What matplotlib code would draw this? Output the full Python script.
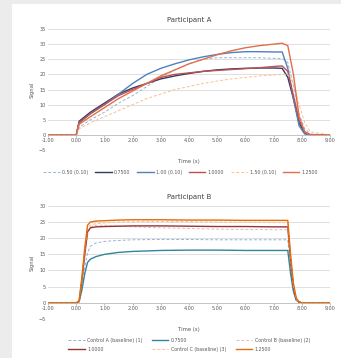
import matplotlib
matplotlib.use("Agg")
import matplotlib.pyplot as plt
from matplotlib.patches import Rectangle

# ---------- data: participant A ----------
t_a = [-1.0, 0.0, 0.1, 0.5, 1.0, 1.5, 2.0, 2.5, 3.0, 3.5, 4.0, 4.5, 5.0,
       5.5, 6.0, 6.5, 7.0, 7.3, 7.5, 7.7, 7.9, 8.1, 8.3, 9.0]
a_ctrl1 = [0, 0, 2.5, 5, 7.5, 10.5, 13, 16, 19, 21.5, 23.5, 25, 25.5, 25.5,
           25.5, 25.5, 25.3, 25.2, 24, 16, 7, 2, 0.3, 0]
a_0750 = [0, 0, 4.5, 7.5, 10.5, 13.5, 15.5, 17, 18.5, 19.5, 20.3, 21, 21.5,
          21.8, 22, 22.1, 22.1, 22.0, 19, 12, 4, 0.5, 0, 0]
a_ctrl2 = [0, 0, 4, 7, 10, 13.5, 17, 20, 22, 23.5, 24.8, 25.8, 26.6, 27.2,
           27.5, 27.5, 27.4, 27.4, 22, 12, 3, 0.3, 0, 0]
a_1000 = [0, 0, 4, 7, 10, 13, 15, 17, 19, 20, 20.5, 21, 21.3, 21.6, 21.9,
          22.2, 22.6, 22.8, 21, 13, 5, 1, 0, 0]
a_ctrl3 = [0, 0, 2, 4, 6, 8, 10, 12, 13.5, 15, 16, 17, 17.8, 18.5, 19, 19.5,
           19.8, 20, 20, 17, 10, 4, 1, 0]
a_1250 = [0, 0, 3.5, 6, 9, 12, 14.5, 17, 19.5, 21.5, 23.5, 25, 26.5, 27.8,
          28.8, 29.5, 30, 30.3, 29.5, 20, 6, 1, 0, 0]
labels_a = ["0.50 (0.10)", "0.7500", "1.00 (0.10)", "1.0000", "1.50 (0.10)", "1.2500"]

# ---------- data: participant B ----------
t_b = [-1.0, 0.0, 0.1, 0.2, 0.3, 0.4, 0.5, 0.7, 1.0, 1.5, 2.0, 3.0, 4.0,
       5.0, 6.0, 7.0, 7.5, 7.6, 7.7, 7.8, 7.9, 8.0, 9.0]
b_ctrl1 = [0, 0, 0.3, 5, 11, 15.5, 17.5, 18.5, 19, 19.3, 19.5, 19.6, 19.6,
           19.5, 19.5, 19.5, 19.5, 11, 4, 1, 0.2, 0, 0]
b_0750 = [0, 0, 0.3, 4, 9, 12.5, 13.5, 14.3, 15, 15.6, 15.9, 16.2, 16.3,
          16.3, 16.2, 16.2, 16.2, 9, 3.5, 0.8, 0.2, 0, 0]
b_ctrl2 = [0, 0, 0.3, 6, 14, 21, 23.5, 24, 24, 23.7, 23.5, 23.2, 23, 22.8,
           22.7, 22.6, 22.6, 13, 5, 1, 0.3, 0, 0]
b_1000 = [0, 0, 0.5, 7, 15, 22, 23.2, 23.5, 23.6, 23.7, 23.8, 23.8, 23.7,
          23.6, 23.6, 23.5, 23.5, 13, 5, 1, 0.2, 0, 0]
b_ctrl3 = [0, 0, 0.5, 8, 16, 23, 24, 24.5, 24.7, 25, 25.1, 25.2, 25.1, 25,
           24.9, 24.8, 24.8, 14, 5, 1, 0.2, 0, 0]
b_1250 = [0, 0, 0.5, 8, 17, 24, 25, 25.3, 25.4, 25.6, 25.7, 25.7, 25.6, 25.6,
          25.5, 25.5, 25.5, 15, 6, 1.5, 0.3, 0, 0]
labels_b = ["Control A (baseline) (1)", "0.7500", "Control B (baseline) (2)",
            "1.0000", "Control C (baseline) (3)", "1.2500"]

xticks = [-1, 0, 1, 2, 3, 4, 5, 6, 7, 8, 9]

fig = plt.figure(figsize=(3.41, 3.58), dpi=100, facecolor="#ececec")
fig.patches.append(Rectangle((0.035, 0.0), 0.965, 0.99, transform=fig.transFigure,
                             facecolor="white", edgecolor="none", zorder=-10))


def style_axes(ax, ymax, title, ylab):
    ax.set_facecolor("none")
    ax.set_xlim(-1, 9)
    ax.set_ylim(-5, ymax)
    ax.set_yticks(range(-5, ymax + 1, 5))
    ax.set_xticks(xticks)
    ax.set_xticklabels(["%.2f" % v for v in xticks])
    ax.grid(axis="y", color="#d9d9d9", linewidth=0.6)
    ax.set_axisbelow(True)
    for s in ["top", "right", "left"]:
        ax.spines[s].set_visible(False)
    ax.spines["bottom"].set_position(("data", 0))
    ax.spines["bottom"].set_color("#bfbfbf")
    ax.spines["bottom"].set_linewidth(0.6)
    ax.tick_params(axis="both", labelsize=3.5, colors="#595959", length=0, pad=1.5)
    ax.tick_params(axis="x", length=1.5, color="#bfbfbf", pad=1)
    ax.set_title(title, fontsize=5, color="#404040", pad=5)
    ax.text(0.5, -0.075, "Time (s)", transform=ax.transAxes, ha="center",
            va="top", fontsize=3.8, color="#595959")
    ax.set_ylabel(ylab, fontsize=3.8, color="#595959", labelpad=3)


# ---- Participant A ----
ax1 = fig.add_axes([0.141, 0.581, 0.827, 0.338])
ax1.plot(t_a, a_ctrl1, color="#95b3d7", lw=0.7, ls=(0, (3, 2)), label=labels_a[0])
ax1.plot(t_a, a_0750, color="#2f3a66", lw=1.0, label=labels_a[1])
ax1.plot(t_a, a_ctrl2, color="#4f81bd", lw=1.0, label=labels_a[2])
ax1.plot(t_a, a_1000, color="#c0504d", lw=1.0, label=labels_a[3])
ax1.plot(t_a, a_ctrl3, color="#fac090", lw=0.7, ls=(0, (3, 2)), label=labels_a[4])
ax1.plot(t_a, a_1250, color="#e0704a", lw=1.0, label=labels_a[5])
style_axes(ax1, 35, "Participant A", "Signal")
ax1.legend(loc="upper center", bbox_to_anchor=(0.47, -0.13), ncol=6, frameon=False,
           fontsize=3.4, handlelength=3.5, columnspacing=1.4, handletextpad=0.5,
           labelcolor="#595959")

# ---- Participant B ----
ax2 = fig.add_axes([0.141, 0.109, 0.827, 0.316])
h1, = ax2.plot(t_b, b_ctrl1, color="#95b3d7", lw=0.7, ls=(0, (3, 2)))
h2, = ax2.plot(t_b, b_0750, color="#31859c", lw=1.0)
h3, = ax2.plot(t_b, b_ctrl2, color="#e6b9b8", lw=0.7, ls=(0, (3, 2)))
h4, = ax2.plot(t_b, b_1000, color="#943634", lw=1.0)
h5, = ax2.plot(t_b, b_ctrl3, color="#fac090", lw=0.7, ls=(0, (3, 2)))
h6, = ax2.plot(t_b, b_1250, color="#e46c0a", lw=1.0)
style_axes(ax2, 30, "Participant B", "Signal")
# legend fills column-wise, reorder so rows read in series order
handles = [h1, h4, h2, h5, h3, h6]
labs = [labels_b[0], labels_b[3], labels_b[1], labels_b[4], labels_b[2], labels_b[5]]
ax2.legend(handles, labs, loc="upper center", bbox_to_anchor=(0.5, -0.13), ncol=3,
           frameon=False, fontsize=3.4, handlelength=3.5, columnspacing=2.0,
           handletextpad=0.5, labelspacing=0.8, labelcolor="#595959")

fig.savefig("out.png", dpi=100, facecolor=fig.get_facecolor())
